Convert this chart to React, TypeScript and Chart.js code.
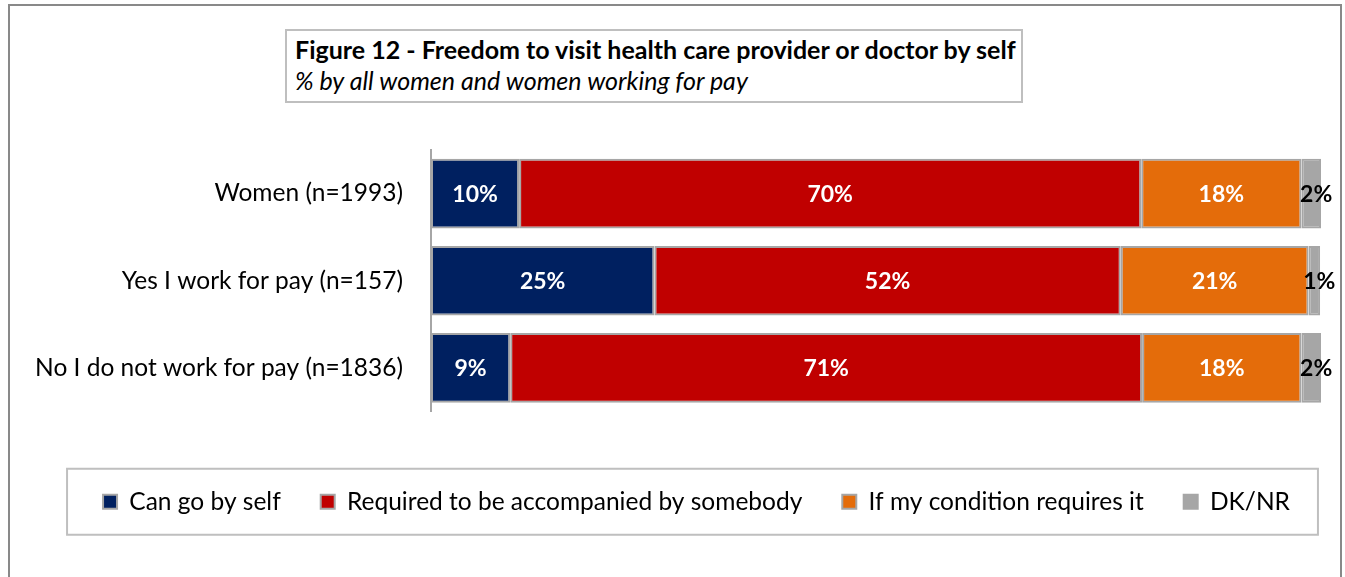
import { useEffect, useRef } from "react";
import { Chart, registerables } from "chart.js";

Chart.register(...registerables);

const categories = [
  "Women (n=1993)",
  "Yes I work for pay (n=157)",
  "No I do not work for pay (n=1836)",
];
const seriesNames = [
  "Can go by self",
  "Required to be accompanied by somebody",
  "If my condition requires it",
  "DK/NR",
];
const canGoBySelf = [9.9, 25.1, 8.9];
const requiredAccompanied = [69.9, 52.4, 71.0];
const ifConditionRequires = [18.0, 21.1, 17.9];
const dkNr = [2.2, 1.3, 2.2];
const seriesColors = ["#002060", "#C00000", "#E46C0A", "#A6A6A6"];
const labelColors = ["#FFFFFF", "#FFFFFF", "#FFFFFF", "#000000"];

const FONT = "Lato";
const LEGEND_SHIFT = 36;

const segmentLabels = {
  id: "segmentLabels",
  afterDatasetsDraw(chart: any) {
    const ctx = chart.ctx;
    ctx.save();
    ctx.font = `bold 23px ${FONT}`;
    ctx.textAlign = "center";
    ctx.textBaseline = "middle";
    chart.data.datasets.forEach((ds: any, di: number) => {
      const meta = chart.getDatasetMeta(di);
      meta.data.forEach((bar: any, i: number) => {
        const v = ds.data[i] as number;
        const p = bar.getProps(["x", "y", "base"], true);
        const cx = (p.x + p.base) / 2 + (di === 3 ? 5 : 0);
        ctx.fillStyle = labelColors[di];
        ctx.fillText(Math.round(v) + "%", cx, p.y + 1);
      });
    });
    ctx.restore();
  },
};

const legendShift = {
  id: "legendShift",
  afterLayout(chart: any) {
    const lg = chart.legend;
    if (!lg) return;
    lg.left += LEGEND_SHIFT;
    lg.right += LEGEND_SHIFT;
  },
};

const legendFrame = {
  id: "legendFrame",
  afterDraw(chart: any) {
    const lg = chart.legend;
    if (!lg || !lg.legendHitBoxes || !lg.legendHitBoxes.length) return;
    const boxes = lg.legendHitBoxes;
    const minL = Math.min(...boxes.map((b: any) => b.left));
    const maxR = Math.max(...boxes.map((b: any) => b.left + b.width));
    const cy = boxes[0].top + boxes[0].height / 2;
    const ctx = chart.ctx;
    ctx.save();
    ctx.strokeStyle = "#BFBFBF";
    ctx.lineWidth = 2;
    ctx.strokeRect(minL - 36, cy - 33, maxR - minL + 36 + 28, 66);
    ctx.restore();
  },
};

export default function App() {
  const ref = useRef<HTMLCanvasElement | null>(null);
  useEffect(() => {
    if (!ref.current) return;
    const values = [canGoBySelf, requiredAccompanied, ifConditionRequires, dkNr];
    const chart = new Chart(ref.current, {
      type: "bar",
      data: {
        labels: categories,
        datasets: seriesNames.map((name, i) => ({
          label: name,
          data: values[i],
          backgroundColor: seriesColors[i],
          borderColor: "#A6A6A6",
          borderWidth: 2,
          borderSkipped: false,
          barPercentage: 0.8,
          categoryPercentage: 1,
        })),
      },
      options: {
        indexAxis: "y",
        responsive: false,
        animation: false,
        maintainAspectRatio: false,
        layout: { padding: { left: 0, right: 24, top: 150, bottom: 53 } },
        scales: {
          x: {
            stacked: true,
            min: 0,
            max: 100,
            display: true,
            grid: { display: false },
            border: { display: false },
            ticks: { display: false },
            afterFit(scale: any) {
              scale.height = 38;
            },
          },
          y: {
            stacked: true,
            grid: { display: false },
            border: { display: true, color: "#A6A6A6", width: 2 },
            ticks: { color: "#000", font: { family: FONT, size: 24.5 }, padding: 20 },
            afterFit(scale: any) {
              scale.width = 431;
            },
          },
        },
        plugins: {
          legend: {
            position: "bottom",
            labels: {
              color: "#000",
              font: { family: FONT, size: 24.5 },
              boxWidth: 14,
              boxHeight: 14,
              padding: 40,
            },
          },
          title: { display: false },
          tooltip: { enabled: false },
        },
      },
      plugins: [segmentLabels, legendShift, legendFrame],
    });
    return () => chart.destroy();
  }, []);

  return (
    <div style={{ position: "absolute", left: 0, top: 0, width: 1345, height: 577, overflow: "hidden", background: "#fff" }}>
      <div
        style={{
          position: "absolute",
          left: 8,
          top: 4,
          width: 1334,
          height: 700,
          border: "2px solid #898989",
          boxSizing: "border-box",
        }}
      />
      <div
        style={{
          position: "absolute",
          left: 285,
          top: 29,
          width: 738,
          height: 74,
          border: "2px solid #BFBFBF",
          boxSizing: "border-box",
          fontFamily: FONT,
          fontSize: 25,
          lineHeight: "31px",
          padding: "3px 0 0 8px",
          color: "#000",
          whiteSpace: "nowrap",
        }}
      >
        <div style={{ fontWeight: "bold" }}>Figure 12 - Freedom to visit health care provider or doctor by self</div>
        <div style={{ fontStyle: "italic" }}>% by all women and women working for pay</div>
      </div>
      <canvas ref={ref} width={1345} height={577} style={{ position: "absolute", left: 0, top: 0 }} />
    </div>
  );
}
